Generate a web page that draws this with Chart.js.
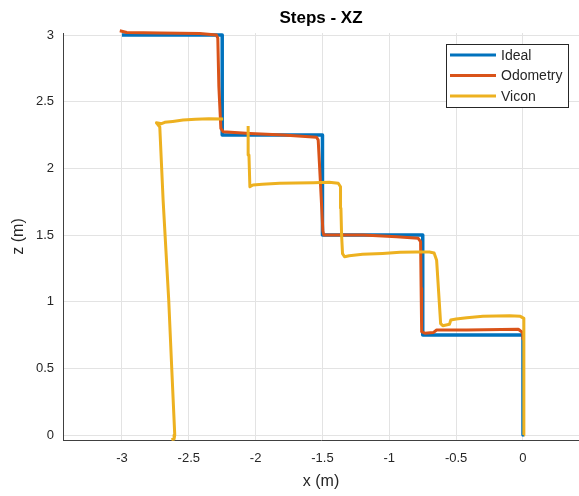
<!DOCTYPE html>
<html>
<head>
<meta charset="utf-8">
<title>Steps - XZ</title>
<script src="https://cdn.jsdelivr.net/npm/chart.js@4.4.0/dist/chart.umd.min.js"></script>
<style>
  html, body { margin: 0; padding: 0; background: #fff; }
  #wrap { width: 579px; height: 496px; }
</style>
</head>
<body>
<div id="wrap"><canvas id="stepsChart" width="579" height="496"></canvas></div>
<script>
// tick labels
const xTicks = [-3, -2.5, -2, -1.5, -1, -0.5, 0];
const zTicks = [0, 0.5, 1, 1.5, 2, 2.5, 3];

// Ideal path
const idealX = [-3, -2.25, -2.25, -1.5, -1.5, -0.75, -0.75, 0, 0];
const idealZ = [3, 3, 2.25, 2.25, 1.5, 1.5, 0.75, 0.75, 0];

// Odometry path
const odomX = [-3.016, -2.964, -2.717, -2.418, -2.293, -2.283, -2.275, -2.26, -2.243, -2.043, -1.794, -1.544, -1.532, -1.514, -1.497, -1.49, -1.195, -0.945, -0.784, -0.766, -0.762, -0.758, -0.734, -0.671, -0.646, -0.421, -0.035, -0.002, 0.0];
const odomZ = [3.032, 3.019, 3.015, 3.011, 3.0, 2.977, 2.612, 2.30, 2.275, 2.262, 2.25, 2.233, 2.2125, 1.87, 1.53, 1.50, 1.5, 1.487, 1.475, 1.45, 1.1, 0.775, 0.763, 0.768, 0.7875, 0.7875, 0.793, 0.768, 0.72];

// Vicon path (null = gap in the recording)
const viconX = [0.006, 0.007, 0.006, -0.02, -0.1, -0.2, -0.3, -0.42, -0.5, -0.54, -0.55, -0.6, -0.616, -0.646, -0.665, -0.7, -0.8, -0.92, -1.05, -1.2, -1.3, -1.335, -1.35, -1.357, -1.362, -1.365, -1.382, -1.45, -1.57, -1.7, -1.82, -1.95, -2.02, -2.043, -2.05, -2.056, null, -2.243, -2.35, -2.45, -2.543, -2.62, -2.68, -2.704, -2.742, -2.717, -2.692, -2.65, -2.628, -2.605, -2.61, -2.63];
const viconZ = [0, 0.3, 0.875, 0.89, 0.895, 0.893, 0.89, 0.88, 0.87, 0.862, 0.83, 0.82, 0.835, 1.31, 1.365, 1.372, 1.372, 1.37, 1.362, 1.355, 1.345, 1.337, 1.36, 1.5, 1.7, 1.862, 1.888, 1.895, 1.892, 1.89, 1.888, 1.88, 1.875, 1.862, 2.1, 2.318, null, 2.37, 2.372, 2.368, 2.362, 2.352, 2.345, 2.335, 2.342, 2.31, 1.76, 1.01, 0.51, 0.0, -0.03, -0.035];

const toPoints = (xs, zs) => xs.map((x, i) => ({ x: x, y: zs[i] }));

const textColor = "#262626";
const font = "'Liberation Sans', Arial, Helvetica, sans-serif";

// MATLAB style legend box in the top right of the axes
const boxLegend = {
  id: "boxLegend",
  afterDraw(chart) {
    const ctx = chart.ctx;
    const area = chart.chartArea;
    const sets = chart.data.datasets;
    const w = 122, rowH = 20.5;
    const h = 63;
    const left = area.right - 11 - w;
    const top = area.top + 11;
    ctx.save();
    ctx.fillStyle = "#fff";
    ctx.fillRect(left, top, w, h);
    ctx.strokeStyle = "#262626";
    ctx.lineWidth = 1;
    ctx.strokeRect(left + 0.5, top + 0.5, w, h);
    ctx.font = "14px " + font;
    ctx.textBaseline = "middle";
    sets.forEach((ds, i) => {
      const y = top + 11 + i * rowH;
      ctx.strokeStyle = ds.borderColor;
      ctx.lineWidth = 3;
      ctx.beginPath();
      ctx.moveTo(left + 4, y);
      ctx.lineTo(left + 50, y);
      ctx.stroke();
      ctx.fillStyle = textColor;
      ctx.fillText(ds.label, left + 55, y + 1);
    });
    ctx.restore();
  }
};

const ctx = document.getElementById("stepsChart").getContext("2d");
new Chart(ctx, {
  type: "scatter",
  data: {
    datasets: [
      { label: "Ideal", data: toPoints(idealX, idealZ), borderColor: "#0072BD", borderWidth: 3.5, order: 3 },
      { label: "Odometry", data: toPoints(odomX, odomZ), borderColor: "#D95319", borderWidth: 3, order: 2 },
      { label: "Vicon", data: toPoints(viconX, viconZ), borderColor: "#EDB120", borderWidth: 3, order: 1 }
    ].map(ds => Object.assign(ds, {
      showLine: true, pointRadius: 0, pointHoverRadius: 0, fill: false,
      tension: 0, clip: false, spanGaps: false, borderJoinStyle: "round", borderCapStyle: "butt"
    }))
  },
  options: {
    responsive: false,
    animation: false,
    layout: { padding: 0 },
    plugins: {
      legend: { display: false },
      tooltip: { enabled: false },
      title: {
        display: true,
        fullSize: false,
        text: "Steps - XZ",
        color: "#000",
        font: { family: font, size: 17, weight: "bold" },
        padding: { top: 8, bottom: 4.6 }
      }
    },
    scales: {
      x: {
        type: "linear",
        min: -3.441,
        max: 0.419,
        afterFit: (s) => { s.height = 56; },
        afterBuildTicks: (s) => { s.ticks = xTicks.map(v => ({ value: v })); },
        ticks: {
          color: textColor, padding: 11,
          font: { family: font, size: 13 },
          callback: (v) => String(+v.toFixed(2))
        },
        grid: { color: "#e3e3e3", drawTicks: false },
        border: { color: "#404040", width: 1 },
        title: {
          display: true, text: "x (m)", color: textColor,
          font: { family: font, size: 16 }, padding: { top: 0, bottom: 5 }
        }
      },
      y: {
        type: "linear",
        min: -0.0375,
        max: 3.015,
        afterFit: (s) => { s.width = 63; },
        afterBuildTicks: (s) => { s.ticks = zTicks.map(v => ({ value: v })); },
        ticks: {
          color: textColor, padding: 9,
          font: { family: font, size: 13 },
          callback: (v) => String(+v.toFixed(2))
        },
        grid: { color: "#e3e3e3", drawTicks: false },
        border: { color: "#404040", width: 1 },
        title: {
          display: true, text: "z (m)", color: textColor,
          font: { family: font, size: 16 }, padding: { top: 9, bottom: 0 }
        }
      }
    }
  },
  plugins: [boxLegend]
});
</script>
</body>
</html>
